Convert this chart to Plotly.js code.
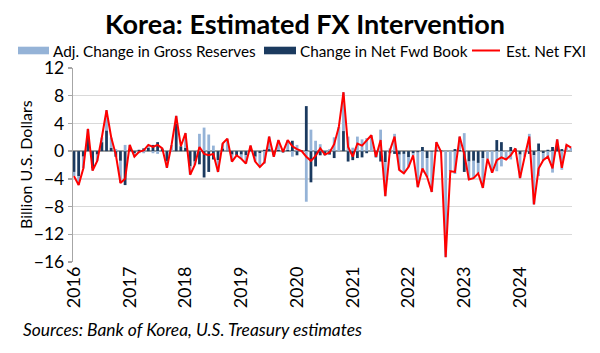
<!DOCTYPE html>
<html>
<head>
<meta charset="utf-8">
<script src="https://cdn.plot.ly/plotly-3.0.1.min.js"></script>
<style>
  html, body { margin: 0; padding: 0; background: #ffffff; }
  #chart { width: 600px; height: 353px; }
</style>
</head>
<body>
<div id="chart"></div>
<script>
// Monthly categories, Jan 2016 - Dec 2024
const years = ['2016','2017','2018','2019','2020','2021','2022','2023','2024'];
const months = [];
years.forEach(y => { for (let m = 1; m <= 12; m++) months.push(y + '-' + String(m).padStart(2, '0')); });

// Adj. Change in Gross Reserves (billion USD)
const grossReserves = [
  -0.6, -1.3, -1.7, 1.1, -0.3, -0.9, 0.7, 2.9, 1.5, 0.3, -3.2, 0.9,
  0.6, -0.5, -0.3, -0.3, 0.4, -0.3, -0.4, 0.1, -0.9, 0.9, 1.1, 0.0,
  2.1, -1.2, -0.5, 2.5, 3.4, 2.4, 0.8, -1.7, 0.7, 1.7, -1.0, 0.0,
  -0.6, -1.2, 0.5, -0.7, -2.0, -1.8, 1.8, -0.2, 1.4, 0.1, 1.4, -0.8,
  0.9, -0.1, -7.3, 3.1, 1.5, 1.0, 0.1, 0.3, 2.0, 3.5, 5.6, 2.1,
  0.5, 2.1, 1.7, 1.9, 2.3, 0.1, 3.1, -4.9, 0.4, 2.5, -2.2, -2.8,
  -1.4, -0.3, -5.0, -3.1, -2.7, -5.8, 1.1, -0.2, -15.3, -2.9, -3.3, 1.9,
  2.6, -2.6, -2.5, -1.5, -4.3, -1.1, -3.1, -2.9, -2.2, -1.2, -1.2, 0.1,
  -3.4, -0.8, 2.5, -7.1, -3.6, -1.0, -1.0, -3.1, 0.9, -2.7, 0.9, 0.5
];

// Change in Net Forward Book (billion USD)
const netFwdBook = [
  -3.0, -3.6, -0.8, 2.1, -2.5, -0.5, 1.3, 3.0, 0.5, -0.8, -1.4, -4.9,
  0.3, -0.3, 0.2, 0.4, 0.5, 0.9, 1.3, 0.3, -1.5, 0.0, 4.0, 0.7,
  0.5, -2.2, -1.5, -1.9, -3.8, -3.0, -1.2, -1.3, 0.4, 0.1, -0.5, -0.6,
  -0.5, -0.6, 0.3, -0.8, -0.3, 0.2, 0.3, -0.6, 0.2, -0.2, 0.2, 1.5,
  -0.6, 0.1, 6.5, -4.5, -2.2, -0.6, -0.6, -0.5, -1.0, 0.0, 2.9, -1.5,
  -1.3, -1.0, -0.9, -0.3, 0.0, -0.9, -1.5, -1.6, -0.3, -0.4, -0.5, -0.4,
  -0.9, -0.3, -0.2, 0.6, -1.0, -0.1, 0.2, 0.1, 0.0, 0.0, 0.3, 0.2,
  -3.0, -1.5, -1.4, -1.7, -1.0, 0.0, 0.0, 1.6, 1.3, 0.0, 0.6, 0.3,
  -0.5, 0.0, -0.4, -0.6, 1.1, -0.3, 0.2, 0.6, 0.8, 0.3, 0.0, 0.0
];

// Est. Net FXI (billion USD)
const netFXI = [
  -3.6, -4.9, -2.5, 3.2, -2.8, -1.4, 2.0, 5.9, 2.0, -0.5, -4.6, -4.0,
  0.9, -0.8, -0.1, 0.1, 0.9, 0.6, 0.9, 0.4, -2.4, 0.9, 5.1, 0.7,
  2.6, -3.4, -2.0, 0.6, -0.4, -0.6, -0.4, -3.0, 1.1, 1.8, -1.5, -0.6,
  -1.1, -1.8, 0.8, -1.5, -2.3, -1.6, 2.1, -0.8, 1.6, -0.1, 1.6, 0.7,
  0.3, 0.0, -0.8, -1.4, -0.7, 0.4, -0.5, -0.2, 1.0, 3.5, 8.5, 0.6,
  -0.8, 1.1, 0.8, 1.6, 2.3, -0.8, 1.6, -6.5, 0.1, 2.1, -2.7, -3.2,
  -2.3, -0.6, -5.2, -2.5, -3.7, -5.9, 1.3, -0.1, -15.3, -2.9, -3.0, 2.1,
  -0.4, -4.1, -3.9, -3.2, -5.3, -1.1, -3.1, -1.3, -0.9, -1.2, -0.6, 0.4,
  -3.9, -0.8, 2.1, -7.7, -2.5, -1.3, -0.8, -2.5, 1.7, -2.4, 0.9, 0.5
];

const yTicks = [-16, -12, -8, -4, 0, 4, 8, 12];
const yearTickVals = years.map(y => y + '-01');

const colLight = '#95b3d7';
const colDark = '#1b3a5f';
const colRed = '#ff0000';
const FONT = 'Lato, "Open Sans", sans-serif';

// pixel -> paper helpers for plot area (x 73..572, y 68..262)
const L = 73, R = 572, T = 68, B = 262;
const px = x => (x - L) / (R - L);
const py = y => (B - y) / (B - T);

const traces = [
  { type: 'bar', name: 'Change in Net Fwd Book', x: months, y: netFwdBook,
    marker: { color: colDark, line: { width: 0 } }, showlegend: false, hoverinfo: 'x+y' },
  { type: 'bar', name: 'Adj. Change in Gross Reserves', x: months, y: grossReserves,
    marker: { color: colLight, line: { width: 0 } }, showlegend: false, hoverinfo: 'x+y' },
  { type: 'scatter', mode: 'lines', name: 'Est. Net FXI', x: months, y: netFXI,
    line: { color: colRed, width: 2 }, showlegend: false, hoverinfo: 'x+y' }
];

const legendItems = [
  { kind: 'rect', color: colLight, x0: 18, x1: 49, text: 'Adj. Change in Gross Reserves', tx: 51 },
  { kind: 'rect', color: colDark, x0: 264, x1: 296, text: 'Change in Net Fwd Book', tx: 298 },
  { kind: 'line', color: colRed, x0: 472, x1: 500, text: 'Est. Net FXI', tx: 504 }
];
const legY = 50.5;
const shapes = [];
const annotations = [];
legendItems.forEach(it => {
  if (it.kind === 'rect') {
    shapes.push({ type: 'rect', xref: 'paper', yref: 'paper',
      x0: px(it.x0), x1: px(it.x1), y0: py(legY + 3.8), y1: py(legY - 3.8),
      fillcolor: it.color, line: { width: 0 } });
  } else {
    shapes.push({ type: 'line', xref: 'paper', yref: 'paper',
      x0: px(it.x0), x1: px(it.x1), y0: py(legY), y1: py(legY),
      line: { color: it.color, width: 2 } });
  }
  annotations.push({ xref: 'paper', yref: 'paper', x: px(it.tx), y: py(legY),
    xanchor: 'left', yanchor: 'middle', showarrow: false, text: it.text,
    font: { family: FONT, size: 15.3, color: '#000000' } });
});
// y-axis title
annotations.push({ xref: 'paper', yref: 'paper', x: px(25), y: py(165),
  xanchor: 'center', yanchor: 'middle', showarrow: false, textangle: -90,
  text: 'Billion U.S. Dollars',
  font: { family: FONT, size: 16, color: '#000000' } });
annotations.push({ xref: 'paper', yref: 'paper', x: px(21), y: py(329),
  xanchor: 'left', yanchor: 'middle', showarrow: false,
  text: '<i>Sources: Bank of Korea, U.S. Treasury estimates</i>',
  font: { family: FONT, size: 17.4, color: '#000000' } });

const layout = {
  width: 600, height: 353,
  margin: { l: L, r: 600 - R, t: T, b: 353 - B, pad: 0 },
  paper_bgcolor: '#ffffff', plot_bgcolor: '#ffffff',
  barmode: 'relative', bargap: 0.4,
  showlegend: false,
  title: { text: '<b>Korea: Estimated FX Intervention</b>', xref: 'container', yref: 'container',
    x: 305 / 600, y: 1 - 24.5 / 353, xanchor: 'center', yanchor: 'middle',
    font: { family: FONT, size: 27, color: '#000000' } },
  xaxis: {
    type: 'category', range: [-0.215, 107.19], autorange: false,
    tickmode: 'array', tickvals: yearTickVals, ticktext: years, tickangle: -90,
    showgrid: false, zeroline: false, showline: false, ticks: '',
    tickfont: { family: FONT, size: 18, color: '#000000' }, automargin: false, fixedrange: true
  },
  yaxis: {
    range: [-16, 12], autorange: false, tickmode: 'array', tickvals: yTicks,
    showgrid: true, gridcolor: '#d9d9d9', gridwidth: 1.3,
    zeroline: true, zerolinecolor: '#a0a0a0', zerolinewidth: 1.5,
    showline: true, linecolor: '#a6a6a6', linewidth: 1.3,
    ticks: 'outside', ticklen: 4, tickcolor: '#a6a6a6', tickwidth: 1.3,
    tickfont: { family: FONT, size: 17.5, color: '#000000' },
    automargin: false, fixedrange: true
  },
  shapes: shapes,
  annotations: annotations
};

Plotly.newPlot('chart', traces, layout, { displayModeBar: false, staticPlot: true });
</script>
</body>
</html>
